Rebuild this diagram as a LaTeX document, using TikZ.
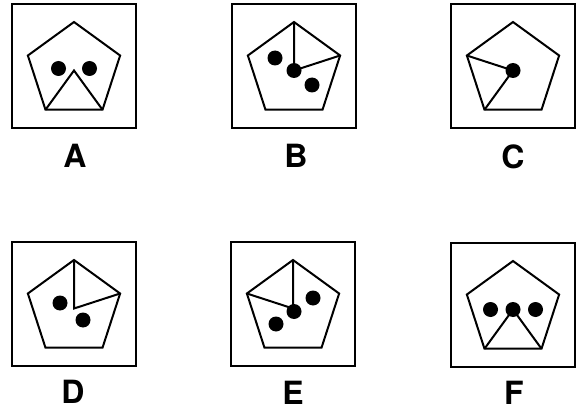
\documentclass[tikz,border=0pt]{standalone}
\usepackage{fontspec}
\setmainfont{TeX Gyre Heros}
\usetikzlibrary{shapes.geometric,positioning}

\begin{document}
\begin{tikzpicture}[
    x=1pt, y=-1pt,
    frame/.style={rectangle, draw, line width=2.2pt, minimum size=124pt, inner sep=0pt},
    penta/.style={regular polygon, regular polygon sides=5, draw, line width=2pt,
                  minimum size=97pt, inner sep=0pt, outer sep=0pt},
    dot/.style={circle, fill, minimum size=15pt, inner sep=0pt},
    tag/.style={font=\fontsize{32}{34}\selectfont\bfseries},
    seg/.style={line width=2pt}
]
\useasboundingbox (0,0) rectangle (584,412);
% top row
\node[frame] (boxA) at (74,66) {};
\node[penta] (pentA) at (74,70.5) {};
\node[dot] (dotA1) at ([shift={(-15.5,-2)}]pentA.center) {};
\node[dot] (dotA2) at ([shift={(15.5,-2)}]pentA.center) {};
\draw[seg] (pentA.corner 3) -- (pentA.center) -- (pentA.corner 4);
\node[tag] (tagA) at (75,156) {A};

\node[frame] (boxB) at (294,66) {};
\node[penta] (pentB) at (294,70.5) {};
\draw[seg] (pentB.corner 1) -- (pentB.center) -- (pentB.corner 5);
\node[dot] (dotB1) at ([shift={(-19,-12.5)}]pentB.center) {};
\node[dot] (dotB2) at (pentB.center) {};
\node[dot] (dotB3) at ([shift={(18,14.5)}]pentB.center) {};
\node[tag] (tagB) at (296,156) {B};

\node[frame] (boxC) at (513,66) {};
\node[penta] (pentC) at (513,70.5) {};
\draw[seg] (pentC.corner 2) -- (pentC.center) -- (pentC.corner 3);
\node[dot] (dotC1) at (pentC.center) {};
\node[tag] (tagC) at (513,157) {C};

% bottom row
\node[frame] (boxD) at (74,304) {};
\node[penta] (pentD) at (74,308.5) {};
\draw[seg] (pentD.corner 1) -- (pentD.center) -- (pentD.corner 5);
\node[dot] (dotD1) at ([shift={(-14,-5.5)}]pentD.center) {};
\node[dot] (dotD2) at ([shift={(9,11.5)}]pentD.center) {};
\node[tag] (tagD) at (73,392) {D};

\node[frame] (boxE) at (293,304) {};
\node[penta] (pentE) at (293,308.5) {};
\draw[seg] (pentE.corner 1) -- (pentE.center) -- (pentE.corner 2);
\node[dot] (dotE1) at ([shift={(20,-10.5)}]pentE.center) {};
\node[dot] (dotE2) at ([shift={(1,3)}]pentE.center) {};
\node[dot] (dotE3) at ([shift={(-17,15.5)}]pentE.center) {};
\node[tag] (tagE) at (293,393) {E};

\node[frame] (boxF) at (513,305) {};
\node[penta] (pentF) at (513,309.5) {};
\draw[seg] (pentF.corner 3) -- (pentF.center) -- (pentF.corner 4);
\node[dot] (dotF1) at ([shift={(-22.5,0)}]pentF.center) {};
\node[dot] (dotF2) at (pentF.center) {};
\node[dot] (dotF3) at ([shift={(22.5,0)}]pentF.center) {};
\node[tag] (tagF) at (514,393) {F};
\end{tikzpicture}
\end{document}
